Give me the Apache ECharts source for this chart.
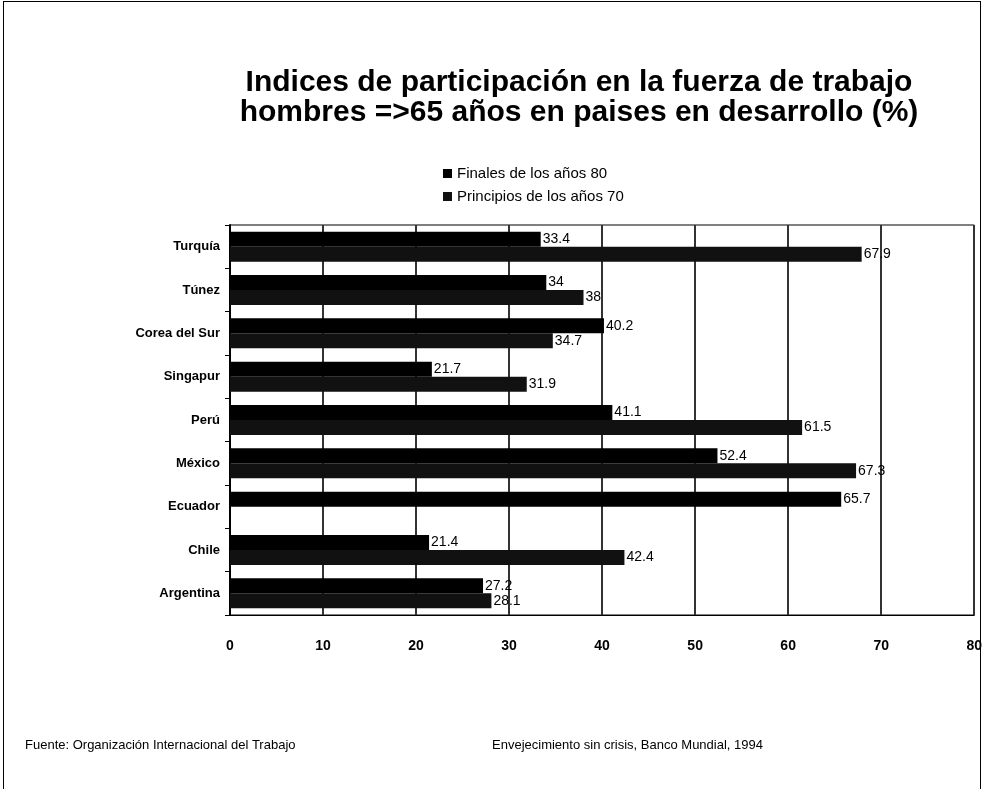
<!DOCTYPE html>
<html><head><meta charset="utf-8">
<script src="https://cdn.jsdelivr.net/npm/echarts@6/dist/echarts.min.js"></script>
<style>
html,body{margin:0;padding:0;background:#fff;}
#frame{position:absolute;left:3px;top:1px;width:978px;height:800px;border:1px solid #000;box-sizing:border-box;}
#c{position:absolute;left:0;top:0;width:985px;height:789px;}
</style></head>
<body><div id="frame"></div><div id="c"></div>
<script>
const categories = ['Turquía','Túnez','Corea del Sur','Singapur','Perú','México','Ecuador','Chile','Argentina'];
const seriesNames = ['Finales de los años 80','Principios de los años 70'];
const finales80 = [33.4, 34, 40.2, 21.7, 41.1, 52.4, 65.7, 21.4, 27.2];
const principios70 = [67.9, 38, 34.7, 31.9, 61.5, 67.3, null, 42.4, 28.1];
const xTicks = [0,10,20,30,40,50,60,70,80];
const titleLines = ['Indices de participación en la fuerza de trabajo','hombres =>65 años en paises en desarrollo (%)'];
const sourceLeft = 'Fuente: Organización Internacional del Trabajo';
const sourceRight = 'Envejecimiento sin crisis, Banco Mundial, 1994';

const chart = echarts.init(document.getElementById('c'));
const font = 'Liberation Sans, Arial, sans-serif';
const lbl = {show:true, position:'right', distance:2, color:'#000', fontSize:14, fontFamily:font};
chart.setOption({
  animation:false,
  title:{text:titleLines.join('\n'), left:574, top:63, textAlign:'center',
    textStyle:{fontSize:30, fontWeight:'bold', fontFamily:font, color:'#000', lineHeight:30}},
  legend:{orient:'vertical', left:438, top:161, itemWidth:9, itemHeight:9, itemGap:8, icon:'rect',
    textStyle:{fontSize:15, fontFamily:font, color:'#000'}, data:seriesNames},
  grid:{left:230, right:10, top:225, bottom:174, show:true, borderColor:'#000', borderWidth:1},
  xAxis:{type:'value', min:0, max:80, interval:10,
    axisLine:{show:true, lineStyle:{color:'#000'}},
    axisTick:{show:false},
    axisLabel:{fontSize:14, fontWeight:'bold', fontFamily:font, color:'#000', margin:24,
      formatter:v=>xTicks.includes(v)?String(v):''},
    splitLine:{show:true, lineStyle:{color:'#333', width:2}}},
  yAxis:{type:'category', data:categories, inverse:true,
    axisLine:{show:true, lineStyle:{color:'#000', width:2}},
    axisTick:{show:true, length:5, lineStyle:{color:'#000'}},
    axisLabel:{fontSize:13, fontWeight:'bold', fontFamily:font, color:'#000', margin:10}},
  series:[
    {name:seriesNames[0], type:'bar', data:finales80, barWidth:15, barGap:'0%',
      itemStyle:{color:'#000'}, label:lbl},
    {name:seriesNames[1], type:'bar', data:principios70, barWidth:15, barGap:'0%',
      itemStyle:{color:'#111'}, label:lbl}
  ],
  graphic:[
    {type:'text', left:25, top:739, style:{text:sourceLeft, fontSize:13, fontFamily:font, fill:'#000'}},
    {type:'text', left:492, top:739, style:{text:sourceRight, fontSize:13, fontFamily:font, fill:'#000'}}
  ]
});
</script></body></html>
